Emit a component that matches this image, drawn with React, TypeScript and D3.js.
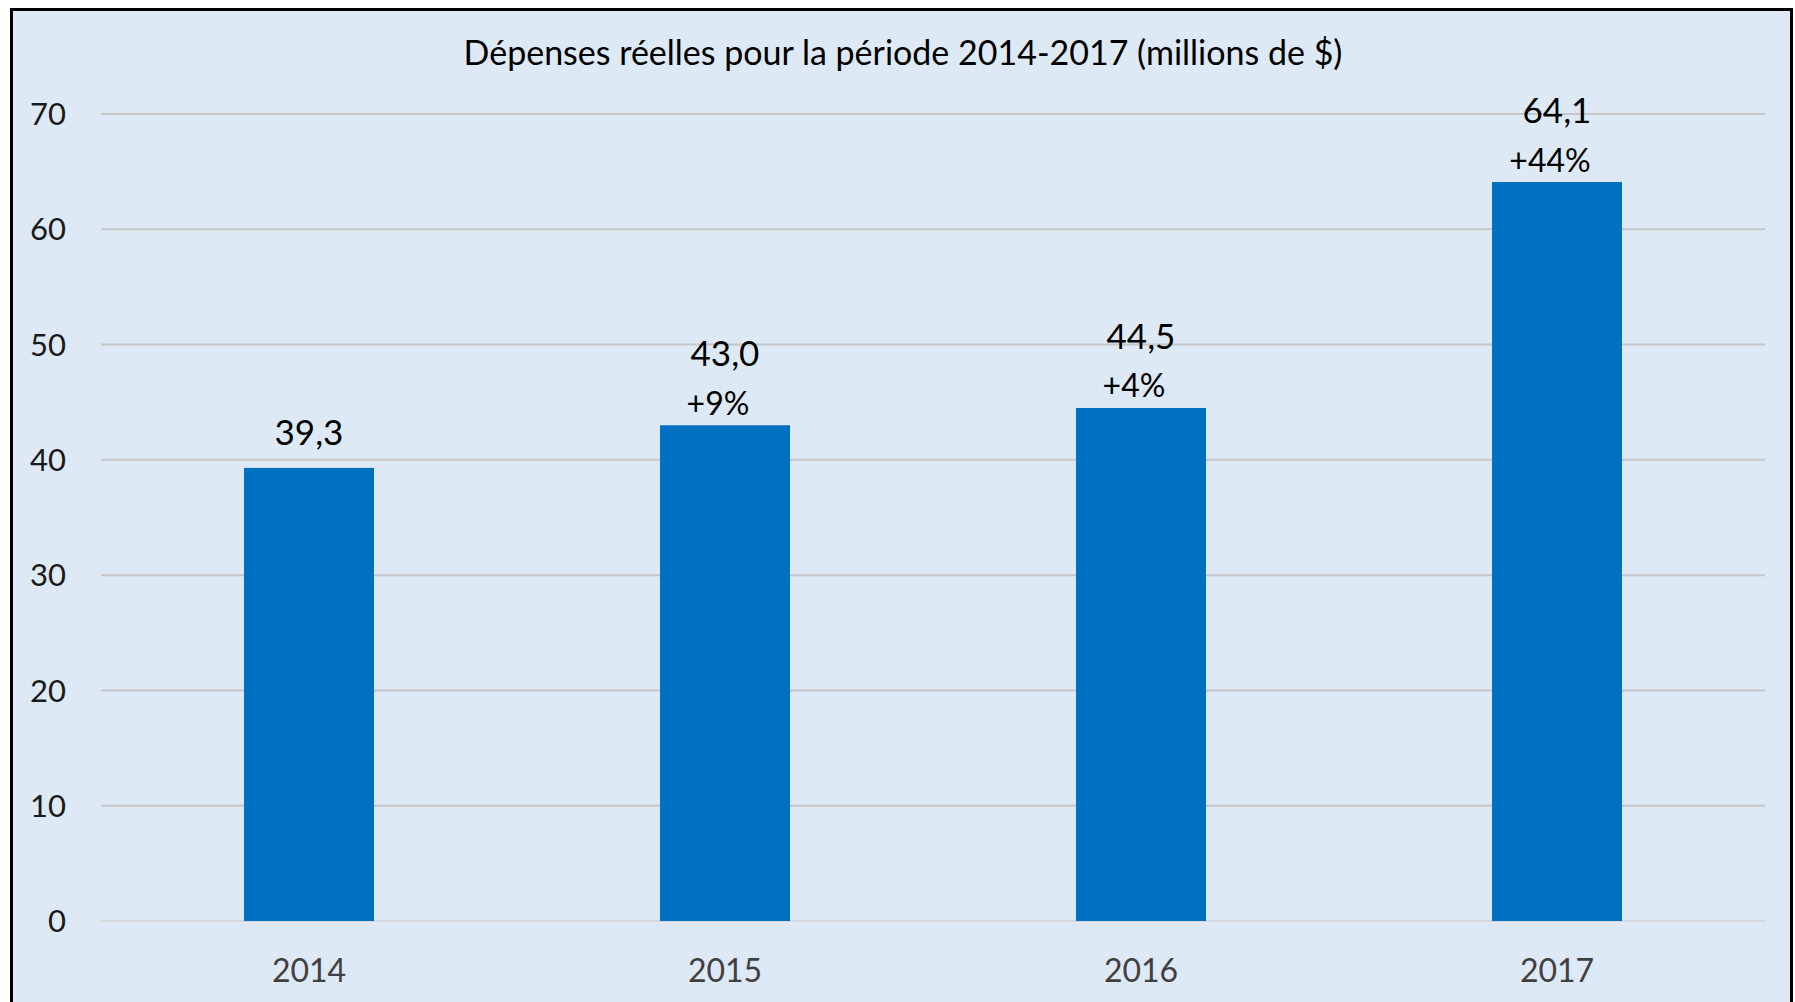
import React, { useEffect, useRef } from "react";
import * as d3 from "d3";

const years = ["2014", "2015", "2016", "2017"];
const spending = [39.3, 43.0, 44.5, 64.1];
const changes = ["", "+9%", "+4%", "+44%"];
const yTicks = [0, 10, 20, 30, 40, 50, 60, 70];
const title = "Dépenses réelles pour la période 2014-2017 (millions de $)";

const App: React.FC = () => {
  const ref = useRef<SVGSVGElement>(null);

  useEffect(() => {
    const width = 1795;
    const height = 1002;
    const font = "Lato, 'Open Sans', sans-serif";

    const svg = d3.select(ref.current);
    svg.selectAll("*").remove();

    svg.append("rect").attr("width", width).attr("height", height).attr("fill", "#ffffff");
    svg
      .append("rect")
      .attr("x", 11.5)
      .attr("y", 9.5)
      .attr("width", 1780)
      .attr("height", 1010)
      .attr("fill", "#DDE9F5")
      .attr("stroke", "#000000")
      .attr("stroke-width", 3);

    const x = d3
      .scaleBand<string>()
      .domain(years)
      .range([101, 1765])
      .paddingInner(0.6875)
      .paddingOuter(0.34375);

    const y = d3.scaleLinear().domain([0, 70]).range([921, 114]);

    // gridlines
    svg
      .append("g")
      .selectAll("line")
      .data(yTicks)
      .enter()
      .append("line")
      .attr("x1", 101)
      .attr("x2", 1765)
      .attr("y1", (d) => y(d))
      .attr("y2", (d) => y(d))
      .attr("stroke", (d) => (d === 0 ? "#D4D8DC" : "#C4C6C8"))
      .attr("stroke-width", 2);

    // y tick labels
    svg
      .append("g")
      .selectAll("text")
      .data(yTicks)
      .enter()
      .append("text")
      .attr("x", 66)
      .attr("y", (d) => y(d))
      .attr("dy", "0.36em")
      .attr("text-anchor", "end")
      .attr("font-family", font)
      .attr("font-size", 31)
      .attr("fill", "#1a1a1a")
      .text((d) => d);

    // bars
    svg
      .append("g")
      .selectAll("rect")
      .data(spending)
      .enter()
      .append("rect")
      .attr("x", (d, i) => x(years[i]) as number)
      .attr("y", (d) => y(d))
      .attr("width", x.bandwidth())
      .attr("height", (d) => y(0) - y(d))
      .attr("fill", "#0070C0");

    // value labels
    svg
      .append("g")
      .selectAll("text")
      .data(spending)
      .enter()
      .append("text")
      .attr("x", (d, i) => (x(years[i]) as number) + x.bandwidth() / 2)
      .attr("y", (d, i) => y(d) - (changes[i] ? 72 : 36))
      .attr("dy", "0.36em")
      .attr("text-anchor", "middle")
      .attr("font-family", font)
      .attr("font-size", 35)
      .attr("fill", "#000000")
      .text((d) => d.toFixed(1).replace(".", ","));

    // change labels
    svg
      .append("g")
      .selectAll("text")
      .data(changes)
      .enter()
      .append("text")
      .attr("x", (d, i) => (x(years[i]) as number) + x.bandwidth() / 2 - 7)
      .attr("y", (d, i) => y(spending[i]) - 22)
      .attr("dy", "0.36em")
      .attr("text-anchor", "middle")
      .attr("font-family", font)
      .attr("font-size", 32)
      .attr("fill", "#000000")
      .text((d) => d);

    // x labels
    svg
      .append("g")
      .selectAll("text")
      .data(years)
      .enter()
      .append("text")
      .attr("x", (d) => (x(d) as number) + x.bandwidth() / 2)
      .attr("y", 970)
      .attr("dy", "0.36em")
      .attr("text-anchor", "middle")
      .attr("font-family", font)
      .attr("font-size", 32)
      .attr("fill", "#404040")
      .text((d) => d);

    svg
      .append("text")
      .attr("x", 903)
      .attr("y", 53)
      .attr("dy", "0.36em")
      .attr("text-anchor", "middle")
      .attr("font-family", font)
      .attr("font-size", 34)
      .attr("fill", "#000000")
      .text(title);
  }, []);

  return (
    <svg
      ref={ref}
      width={1795}
      height={1002}
      style={{ position: "absolute", left: 0, top: 0 }}
    />
  );
};

export default App;
